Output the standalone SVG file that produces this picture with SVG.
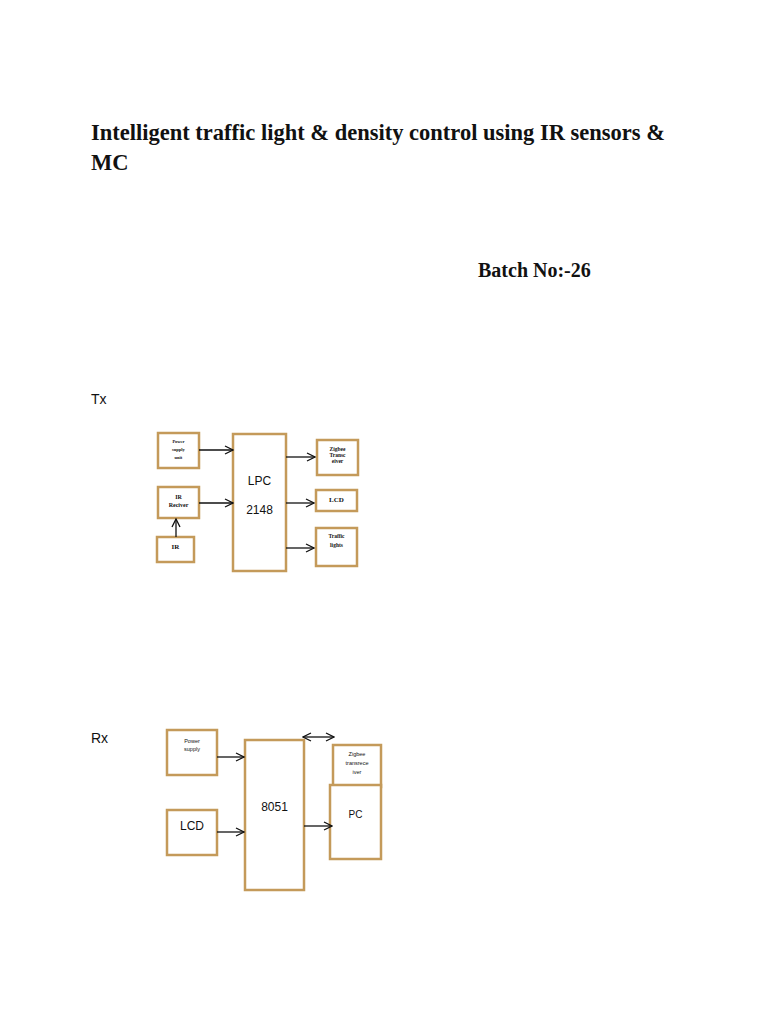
<svg xmlns="http://www.w3.org/2000/svg" width="768" height="1024" viewBox="0 0 768 1024">
<defs>
<marker id="ah" viewBox="0 0 10 10" refX="9" refY="5" markerWidth="10" markerHeight="10" markerUnits="userSpaceOnUse" orient="auto-start-reverse">
<path d="M1,1 L9,5 L1,9" fill="none" stroke="#111" stroke-width="1.3"/>
</marker>
<style>
.box{fill:#fff;stroke:#c49a5a;stroke-width:2.5}
.c{stroke:#111;stroke-width:1.3;fill:none;marker-end:url(#ah)}
.ser{font-family:"Liberation Serif",serif;font-weight:bold;fill:#111}
.sans{font-family:"Liberation Sans",Arial,sans-serif;fill:#111}
.tb{font-family:"Liberation Serif",serif;font-weight:bold;fill:#111;text-anchor:middle}
.ts{font-family:"Liberation Sans",Arial,sans-serif;fill:#111;text-anchor:middle}
</style>
</defs>
<rect width="768" height="1024" fill="#fff"/>
<text class="ser" x="91" y="140" font-size="22.5">Intelligent traffic light &amp; density control using IR sensors &amp;</text>
<text class="ser" x="91" y="170" font-size="22.5">MC</text>
<text class="ser" x="478" y="277" font-size="20">Batch No:-26</text>
<text class="sans" x="91" y="404" font-size="14">Tx</text>
<text class="sans" x="91" y="743" font-size="14">Rx</text>

<g id="tx-power"><rect class="box" x="158" y="433" width="41" height="35"/>
<text class="tb" font-size="4.5"><tspan x="178.5" y="443">Power</tspan><tspan x="178.5" y="451">supply</tspan><tspan x="178.5" y="459">unit</tspan></text></g>
<g id="tx-irrec"><rect class="box" x="158" y="487" width="41" height="31"/>
<text class="tb" font-size="6"><tspan x="178.5" y="499">IR</tspan><tspan x="178.5" y="507">Reciver</tspan></text></g>
<g id="tx-ir"><rect class="box" x="157" y="537" width="37" height="25"/>
<text class="tb" font-size="7" x="175.5" y="549">IR</text></g>
<g id="tx-lpc"><rect class="box" x="233" y="434" width="53" height="137"/>
<text class="ts" font-size="12"><tspan x="259.5" y="485">LPC</tspan><tspan x="259.5" y="514">2148</tspan></text></g>
<g id="tx-zigbee"><rect class="box" x="317" y="440" width="41" height="35"/>
<text class="tb" font-size="5.5"><tspan x="337.5" y="451">Zigbee</tspan><tspan x="337.5" y="457">Transc</tspan><tspan x="337.5" y="463">eiver</tspan></text></g>
<g id="tx-lcd"><rect class="box" x="316" y="490" width="41" height="21"/>
<text class="tb" font-size="7" x="336.5" y="502">LCD</text></g>
<g id="tx-traffic"><rect class="box" x="316" y="528" width="41" height="38"/>
<text class="tb" font-size="5.5"><tspan x="336.5" y="538">Traffic</tspan><tspan x="336.5" y="547">lights</tspan></text></g>

<g id="rx-power"><rect class="box" x="167" y="730" width="50" height="45"/>
<text class="ts" font-size="5.5"><tspan x="192" y="743">Power</tspan><tspan x="192" y="751">supply</tspan></text></g>
<g id="rx-lcd"><rect class="box" x="167" y="810" width="50" height="45"/>
<text class="ts" font-size="12" x="192" y="830">LCD</text></g>
<g id="rx-8051"><rect class="box" x="245" y="740" width="59" height="150"/>
<text class="ts" font-size="12" x="274.5" y="811">8051</text></g>
<g id="rx-zigbee"><rect class="box" x="333" y="745" width="48" height="42"/>
<text class="ts" font-size="5.5"><tspan x="357" y="756">Zigbee</tspan><tspan x="357" y="765">transrece</tspan><tspan x="357" y="774">iver</tspan></text></g>
<g id="rx-pc"><rect class="box" x="330" y="785" width="51" height="74"/>
<text class="ts" font-size="10" x="355.5" y="818">PC</text></g>

<g id="connectors">
<line class="c" x1="199" y1="450" x2="233" y2="450"/>
<line class="c" x1="199" y1="503" x2="233" y2="503"/>
<line class="c" x1="176" y1="537" x2="176" y2="519"/>
<line class="c" x1="286" y1="457" x2="315" y2="457"/>
<line class="c" x1="286" y1="503" x2="314" y2="503"/>
<line class="c" x1="286" y1="548" x2="314" y2="548"/>
<line class="c" x1="217" y1="757" x2="244" y2="757"/>
<line class="c" x1="217" y1="832" x2="244" y2="832"/>
<line class="c" x1="304" y1="826" x2="332" y2="826"/>
<line class="c" x1="303" y1="737" x2="334" y2="737" marker-start="url(#ah)"/>
</g>
</svg>
